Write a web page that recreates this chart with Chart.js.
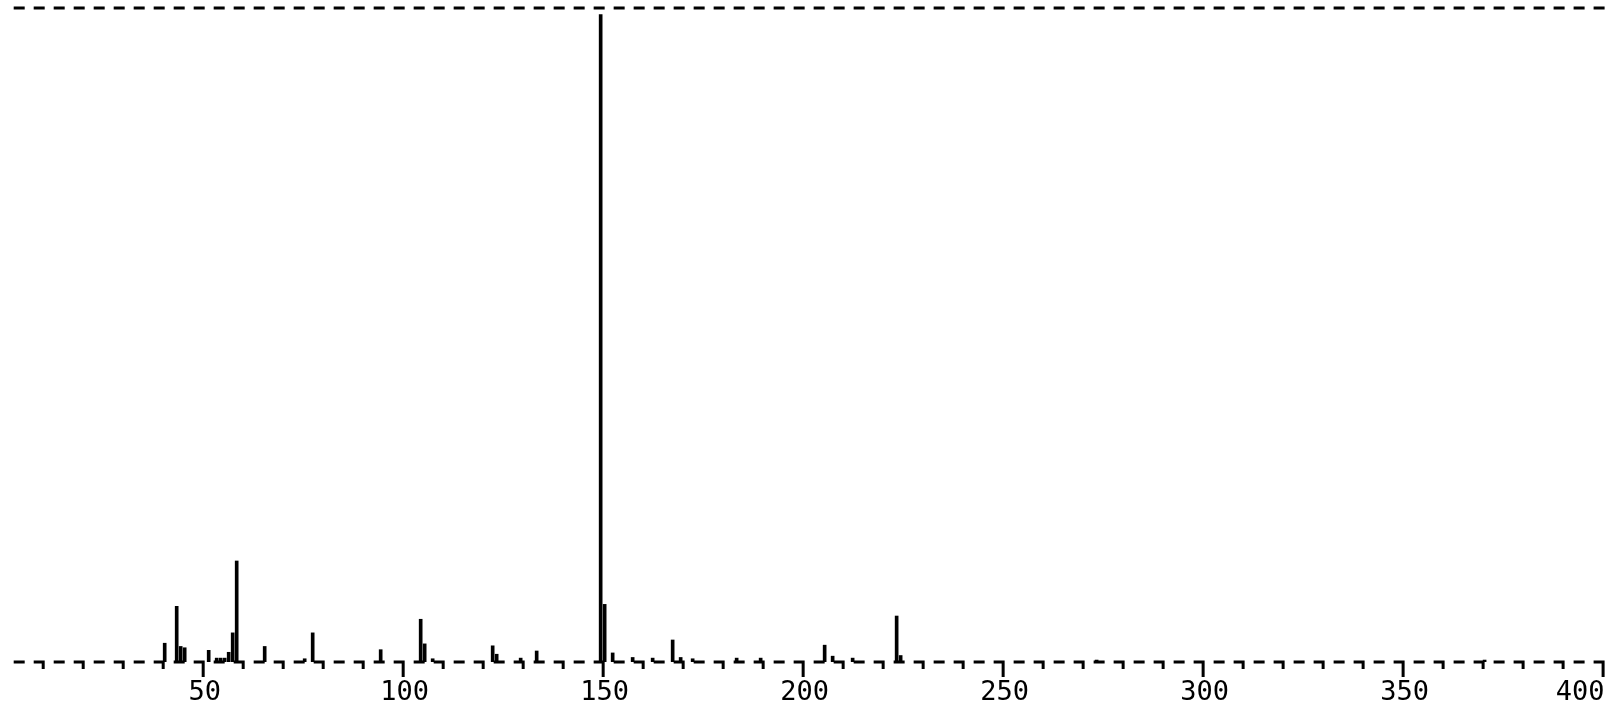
<!DOCTYPE html>
<html>
<head>
<meta charset="utf-8">
<script src="https://cdn.jsdelivr.net/npm/chart.js@4.4.1/dist/chart.umd.min.js"></script>
<style>
  html, body { margin: 0; padding: 0; background: #fff; }
  canvas { display: block; }
</style>
</head>
<body>
<canvas id="spectrum" width="1611" height="709"></canvas>
<script>
// m/z and relative intensity (%)
const mz = [40, 43, 44, 45, 51, 53, 54, 55, 56, 57, 58, 65, 75, 77, 94, 104, 105, 107, 122, 123, 129, 133,
            149, 150, 152, 157, 162, 167, 169, 172, 183, 189, 205, 207, 212, 223, 224, 273, 370];
const intensity = [2.9, 8.6, 2.4, 2.2, 1.8, 0.6, 0.6, 0.6, 1.5, 4.5, 15.6, 2.4, 0.5, 4.5, 1.9, 6.6, 2.8, 0.5, 2.5, 1.2, 0.6, 1.7,
                   100, 8.9, 1.4, 0.7, 0.6, 3.4, 0.7, 0.5, 0.6, 0.6, 2.6, 0.9, 0.6, 7.1, 1.0, 0.3, 0.3];
const xLabels = [50, 100, 150, 200, 250, 300, 350, 400];

// dashed plotter style baseline + top frame, little hooks every 10
const plotterAxis = {
    id: 'plotterAxis',
    afterDatasetsDraw(chart) {
        const { ctx, chartArea, scales: { x, y } } = chart;
        const y0 = y.getPixelForValue(0);
        const yTop = chartArea.top;
        ctx.save();
        ctx.strokeStyle = '#000';
        ctx.lineWidth = 3;
        ctx.beginPath();
        for (let m = 5; m <= 405; m += 5) {
            const px = x.getPixelForValue(m);
            ctx.moveTo(px - 11, yTop);
            ctx.lineTo(px, yTop);
            if (m > 400) continue;
            ctx.moveTo(px - 11, y0);
            ctx.lineTo(px, y0);
            if (m % 10 === 0) {
                ctx.moveTo(px - 1.5, y0);
                ctx.lineTo(px - 1.5, y0 + (m % 50 === 0 ? 15 : 7));
            }
        }
        ctx.stroke();
        ctx.restore();
    }
};

const ctx = document.getElementById('spectrum').getContext('2d');
const chart = new Chart(ctx, {
    type: 'bar',
    data: {
        datasets: [{
            data: mz.map((m, i) => ({ x: m, y: intensity[i] })),
            backgroundColor: '#000',
            barThickness: 3
        }]
    },
    options: {
        responsive: false,
        animation: false,
        devicePixelRatio: 1,
        layout: { padding: { top: 8, left: 0, right: 0, bottom: 0 } },
        plugins: {
            legend: { display: false },
            tooltip: { enabled: false }
        },
        scales: {
            x: {
                type: 'linear',
                min: -1.175,
                max: 401.6,
                offset: false,
                grid: { display: false, drawTicks: false },
                border: { display: false },
                ticks: {
                    stepSize: 50,
                    includeBounds: false,
                    autoSkip: false,
                    maxRotation: 0,
                    align: 'inner',
                    padding: 15,
                    color: '#000',
                    font: { family: 'DejaVu Sans Mono', size: 27 },
                    callback: v => xLabels.includes(v) ? String(v) : ''
                },
                afterFit: s => {
                    s.height = 47;
                    s.paddingLeft = 0;
                    s.paddingRight = 0;
                }
            },
            y: {
                display: false,
                min: 0,
                max: 101
            }
        }
    },
    plugins: [plotterAxis]
});
</script>
</body>
</html>
